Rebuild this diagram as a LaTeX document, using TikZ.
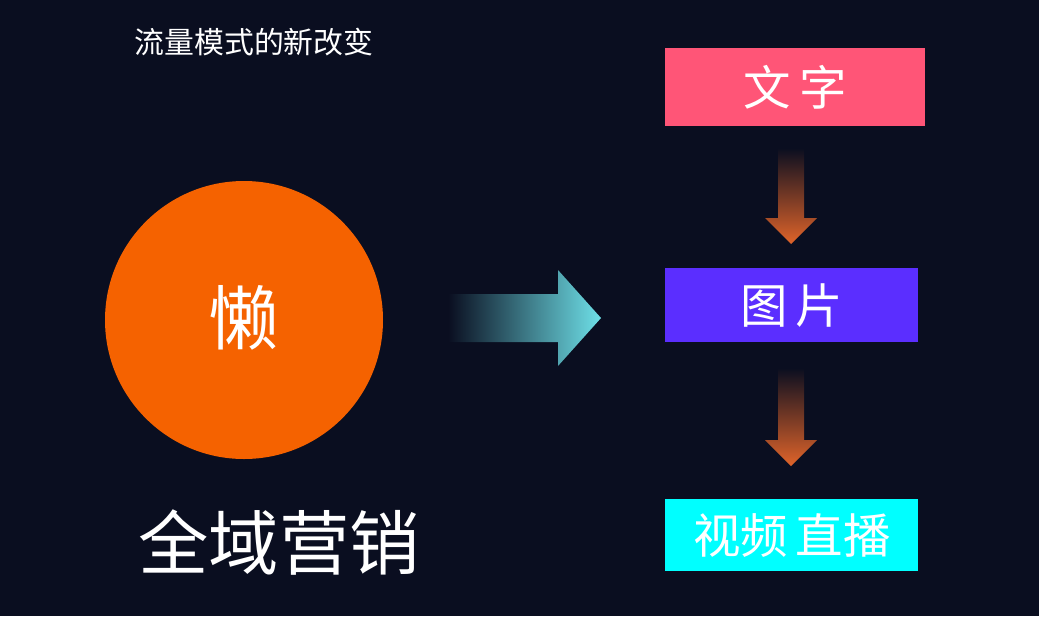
\documentclass[tikz,border=0pt]{standalone}
\usepackage{fontspec}
\newfontfamily\cjk{Noto Sans CJK SC}
\usetikzlibrary{positioning}
\definecolor{bgnavy}{HTML}{0A0E20}
\definecolor{lazyorange}{HTML}{F56200}
\definecolor{textpink}{HTML}{FF5577}
\definecolor{picviolet}{HTML}{5B2EFF}
\definecolor{videocyan}{HTML}{00FFFF}
\definecolor{arroworange}{HTML}{E0642A}
\definecolor{arrowcyan}{HTML}{6EE0E8}
\tikzset{
  every node/.style={font=\cjk, text=white},
  stagebox/.style={rectangle, inner sep=0pt, anchor=north west}
}
\begin{document}
\begin{tikzpicture}[x=0.02cm, y=-0.02cm]
  \fill[bgnavy] (0,0) rectangle (1039,616);
  \useasboundingbox (0,0) rectangle (1039,616);

  % Title
  \node[font=\cjk\fontsize{17}{20}\selectfont] (title) at (254,42) {流量模式的新改变};

  % Lazy circle
  \fill[lazyorange] (244,320) circle (139);
  \node[font=\cjk\fontsize{40}{44}\selectfont] (lazy) at (244,318) {懒};
  \node[font=\cjk\fontsize{40}{44}\selectfont] (allfield) at (279,543) {全域营销};

  % Stages
  \node[stagebox, fill=textpink, minimum width=5.2cm, minimum height=1.56cm,
        font=\cjk\fontsize{27}{30}\selectfont] (txt) at (665,48) {文\,字};
  \node[stagebox, fill=picviolet, minimum width=5.06cm, minimum height=1.48cm,
        font=\cjk\fontsize{27}{30}\selectfont] (pic) at (665,268) {图\,片};
  \node[stagebox, fill=videocyan, minimum width=5.06cm, minimum height=1.44cm,
        font=\cjk\fontsize{27}{30}\selectfont] (vid) at (665,499) {视频\,直播};

  % Down arrows
  \foreach \top/\bot in {148/244, 368/466}{
    \shade[top color=bgnavy, bottom color=arroworange]
      (778,\top) -- (804,\top) -- (804,\bot-26) -- (817,\bot-26) -- (791,\bot)
      -- (765,\bot-26) -- (778,\bot-26) -- cycle;
  }

  % Big arrow
  \shade[left color=bgnavy, right color=arrowcyan]
    (448,294) -- (558,294) -- (558,270) -- (601,318) -- (558,366)
    -- (558,342) -- (448,342) -- cycle;
\end{tikzpicture}
\end{document}
